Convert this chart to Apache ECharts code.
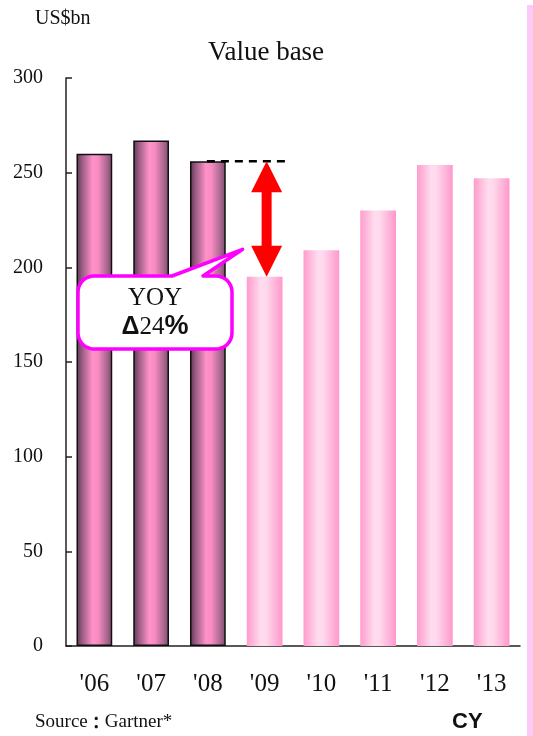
<!DOCTYPE html>
<html>
<head>
<meta charset="utf-8">
<title>Value base</title>
<script src="https://cdn.jsdelivr.net/npm/echarts@6/dist/echarts.min.js"></script>
<style>
  html, body { margin: 0; padding: 0; background: #ffffff; }
  #chart { width: 533px; height: 736px; }
</style>
</head>
<body>
<div id="chart"></div>
<script>
// Market size by calendar year, US$bn
const years = ["'06", "'07", "'08", "'09", "'10", "'11", "'12", "'13"];
const values = [260, 267, 256, 195, 209, 230, 254, 247];
// first three years are actuals, the rest are forecasts
const actualFlags = [true, true, true, false, false, false, false, false];
const yTicks = [0, 50, 100, 150, 200, 250, 300];
const yoyText = '24';

const SERIF = '"Liberation Serif", "DejaVu Serif", serif';
const SANS = '"Liberation Sans", Arial, sans-serif';

const actualFill = new echarts.graphic.LinearGradient(0, 0, 1, 0, [
  { offset: 0, color: '#5c364f' },
  { offset: 0.15, color: '#985a82' },
  { offset: 0.45, color: '#ff92c9' },
  { offset: 0.6, color: '#f88cc2' },
  { offset: 0.85, color: '#aa6890' },
  { offset: 1, color: '#7c4a6a' }
]);
const forecastFill = new echarts.graphic.LinearGradient(0, 0, 1, 0, [
  { offset: 0, color: '#ff9ccd' },
  { offset: 0.4, color: '#ffdcee' },
  { offset: 0.55, color: '#ffd8ec' },
  { offset: 1, color: '#ff98cb' }
]);

const barData = values.map((v, i) => ({
  value: v,
  itemStyle: actualFlags[i]
    ? { color: actualFill, borderColor: '#111', borderWidth: 1.5 }
    : { color: forecastFill, borderWidth: 0 }
}));

const chart = echarts.init(document.getElementById('chart'), null, { renderer: 'canvas' });

chart.setOption({
  backgroundColor: '#ffffff',
  animation: false,
  title: {
    text: 'Value base',
    left: 261,
    top: 34,
    textAlign: 'center',
    textStyle: { fontFamily: SERIF, fontSize: 27, fontWeight: 'normal', color: '#111' }
  },
  grid: { left: 66, right: 13, top: 78, bottom: 90, containLabel: false },
  xAxis: {
    type: 'category',
    data: years,
    axisLine: { lineStyle: { color: '#222', width: 1.5 } },
    axisTick: { show: false },
    axisLabel: { fontFamily: SERIF, fontSize: 25, color: '#111', margin: 26 }
  },
  yAxis: {
    type: 'value',
    min: yTicks[0],
    max: yTicks[yTicks.length - 1],
    interval: yTicks[1] - yTicks[0],
    axisLine: { show: true, lineStyle: { color: '#222', width: 1.5 } },
    axisTick: { show: true, inside: true, length: 6, lineStyle: { color: '#222', width: 1.5 } },
    splitLine: { show: false },
    axisLabel: { fontFamily: SERIF, fontSize: 20, color: '#111', margin: 23 }
  },
  series: [{
    type: 'bar',
    data: barData,
    barWidth: '63%',
    z: 2
  }]
});

// quarter-circle corner points (centre cx,cy; angles in degrees)
function arcPts(cx, cy, r, a0, a1) {
  const pts = [];
  const n = 8;
  for (let k = 0; k <= n; k++) {
    const a = (a0 + (a1 - a0) * k / n) * Math.PI / 180;
    pts.push([cx + r * Math.cos(a), cy + r * Math.sin(a)]);
  }
  return pts;
}

// annotations placed from the data scale
function drawAnnotations() {
  const lastActual = actualFlags.lastIndexOf(true);
  const firstForecast = lastActual + 1;
  const pA = chart.convertToPixel({ seriesIndex: 0 }, [lastActual, values[lastActual]]);
  const pF = chart.convertToPixel({ seriesIndex: 0 }, [firstForecast, values[firstForecast]]);
  const catW = pF[0] - pA[0];

  const ax = pF[0] + 2;
  const yTop = pA[1];
  const yBot = pF[1];
  const hw = 15.5, sw = 5, hh = 31;

  const arrowPts = [
    [ax, yTop], [ax + hw, yTop + hh], [ax + sw, yTop + hh],
    [ax + sw, yBot - hh], [ax + hw, yBot - hh], [ax, yBot],
    [ax - hw, yBot - hh], [ax - sw, yBot - hh], [ax - sw, yTop + hh],
    [ax - hw, yTop + hh]
  ];

  // callout bubble outline with rounded corners and a pointer
  const L = 78, R = 232, T = 276, B = 349, r = 16;
  const tip = [ax - 24, yTop + 88];
  const bubblePts = []
    .concat(arcPts(L + r, T + r, r, 180, 270))
    .concat([[172, T], tip, [203, T]])
    .concat(arcPts(R - r, T + r, r, 270, 360))
    .concat(arcPts(R - r, B - r, r, 0, 90))
    .concat(arcPts(L + r, B - r, r, 90, 180));

  chart.setOption({
    graphic: [
      // side band
      { type: 'rect', shape: { x: 527, y: 5, width: 6, height: 731 }, style: { fill: '#fbcaf6' }, z: 1 },
      // unit label
      { type: 'text', x: 35, y: 9, style: { text: 'US$bn', fontFamily: SERIF, fontSize: 20, fill: '#111' } },
      // source note
      {
        type: 'text', x: 35, y: 713,
        style: {
          text: '{a|Source}{b|：}{a|Gartner*}',
          rich: {
            a: { fontFamily: SERIF, fontSize: 19, fill: '#111' },
            b: { fontFamily: '"Noto Sans CJK JP", sans-serif', fontSize: 17, fontWeight: 'bold', fill: '#111' }
          }
        }
      },
      // calendar-year marker
      { type: 'text', x: 452, y: 711, style: { text: 'CY', fontFamily: SANS, fontSize: 22, fontWeight: 'bold', fill: '#111' } },
      // reference level of last actual year
      {
        type: 'line', z: 10,
        shape: { x1: pA[0] - 1, y1: yTop, x2: pF[0] + catW * 0.45, y2: yTop },
        style: { stroke: '#000', lineWidth: 2.5, lineDash: [8, 6] }
      },
      // double-headed drop arrow
      { type: 'polygon', z: 10, shape: { points: arrowPts }, style: { fill: '#ff0000' } },
      // bubble
      {
        type: 'polygon', z: 11,
        shape: { points: bubblePts },
        style: { fill: '#ffffff', stroke: '#ff00ff', lineWidth: 3.5, lineJoin: 'round' }
      },
      {
        type: 'text', z: 12, x: 155, y: 298,
        style: { text: 'YOY', fontFamily: SERIF, fontSize: 25, fill: '#111', align: 'center', verticalAlign: 'middle' }
      },
      {
        type: 'text', z: 12, x: 155, y: 327,
        style: {
          text: '{d|Δ}{n|' + yoyText + '}{p|%}',
          align: 'center', verticalAlign: 'middle',
          rich: {
            d: { fontFamily: SANS, fontSize: 25, fontWeight: 'bold', fill: '#111' },
            n: { fontFamily: SERIF, fontSize: 25, fill: '#111' },
            p: { fontFamily: SANS, fontSize: 27, fontWeight: 'bold', fill: '#111' }
          }
        }
      }
    ]
  });
}
drawAnnotations();
</script>
</body>
</html>
